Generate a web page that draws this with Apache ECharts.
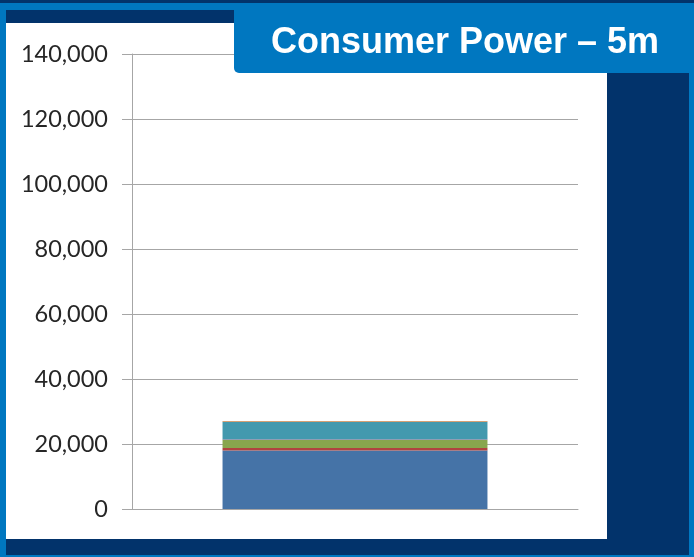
<!DOCTYPE html>
<html>
<head>
<meta charset="utf-8">
<script src="https://cdn.jsdelivr.net/npm/echarts@6/dist/echarts.min.js"></script>
<style>
  html, body { margin: 0; padding: 0; background: #0077c0; }
  #chart { width: 694px; height: 557px; }
</style>
</head>
<body>
<div id="chart"></div>
<script>
// one stacked column
const categories = ['']
const seriesNames = ['Series 1', 'Series 2', 'Series 3', 'Series 4', 'Series 5', 'Series 6']
const seriesValues = [18000, 750, 2550, 150, 5400, 200]
const seriesColors = ['#4573a7', '#b0443f', '#88a64d', '#71589a', '#4399ae', '#d98a4e']
const yTicks = [0, 20000, 40000, 60000, 80000, 100000, 120000, 140000]

const chart = echarts.init(document.getElementById('chart'))

const series = seriesNames.map((name, i) => ({
  name: name,
  type: 'bar',
  stack: 'total',
  barWidth: '59.4%',
  itemStyle: { color: seriesColors[i] },
  data: [seriesValues[i]]
}))

chart.setOption({
  animation: false,
  backgroundColor: '#0077c0',
  // 标题
  title: {
    text: 'Consumer Power – 5m',
    left: 460,
    top: 20,
    textAlign: 'center',
    z: 12,
    textStyle: {
      color: '#fff',
      fontFamily: 'Liberation Sans',
      fontWeight: 'bold',
      fontSize: 36
    }
  },
  // 背景框
  graphic: [
    { type: 'rect', z: -10, shape: { x: 0, y: 0, width: 694, height: 3 }, style: { fill: '#02336b' } },
    { type: 'rect', z: -10, shape: { x: 6, y: 10, width: 683, height: 545 }, style: { fill: '#02336b' } },
    { type: 'rect', z: -9, shape: { x: 6, y: 23, width: 601, height: 516 }, style: { fill: '#ffffff' } },
    // 标题底色，盖住网格线
    { type: 'rect', z: 10, shape: { x: 234, y: 3, width: 460, height: 70, r: [0, 0, 0, 5] }, style: { fill: '#0077c0' } }
  ],
  grid: {
    left: 132,
    right: 116,
    top: 54,
    bottom: 48
  },
  xAxis: {
    type: 'category',
    data: categories,
    axisLine: { lineStyle: { color: '#a6a6a6' } },
    axisTick: { show: false },
    axisLabel: { show: false }
  },
  yAxis: {
    type: 'value',
    min: yTicks[0],
    max: yTicks[yTicks.length - 1],
    interval: yTicks[1] - yTicks[0],
    axisLine: { show: true, lineStyle: { color: '#a6a6a6' } },
    axisTick: { show: true, length: 10, lineStyle: { color: '#a6a6a6' } },
    splitLine: { lineStyle: { color: '#a6a6a6' } },
    axisLabel: {
      margin: 24,
      color: '#262626',
      fontFamily: 'Lato',
      fontSize: 23.5,
      formatter: v => v.toLocaleString('en-US')
    }
  },
  series: series
})
</script>
</body>
</html>
